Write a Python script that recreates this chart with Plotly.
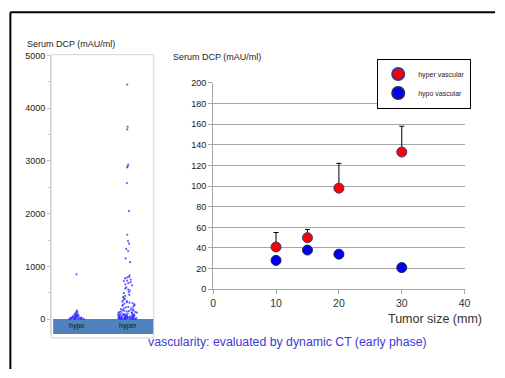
import plotly.graph_objects as go

# ---- data ----
# left panel: individual serum DCP values (mAU/ml) by vascularity
hypo_values = [850, 160, 140, 125, 110, 100, 92, 85, 78, 72, 66, 60, 55, 50, 46, 42,
               38, 35, 32, 29, 26, 23, 20, 18, 15, 13, 11, 9, 7, 6, 5, 4, 3, 2, 1]
hyper_values = [4450, 3650, 3600, 2930, 2900, 2880, 2580, 2050, 1600, 1480, 1430, 1330,
                1290, 1150, 1080, 830, 800, 790, 770, 750, 730, 720, 700, 680, 660, 640,
                600, 580, 560, 540, 510, 490, 460, 440, 420, 400, 380, 360, 340, 330,
                320, 310, 300, 290, 280, 270, 260, 250, 240, 230, 220, 210, 200, 190,
                180, 175, 170, 160, 155, 150, 145, 140, 135, 130, 125, 120, 115, 110,
                105, 100, 96, 92, 88, 85, 82, 78, 75, 72, 70, 68, 65, 62, 60, 58, 55,
                52, 50, 48, 46, 44, 42, 40, 38, 36, 34, 32, 30, 28, 26, 24, 22, 20, 19,
                18, 16, 15, 14, 12, 11, 10, 9, 8, 7, 6, 5, 4, 3, 2, 1]
left_categories = ["hypo", "hyper"]
left_ticks = [0, 1000, 2000, 3000, 4000, 5000]
left_minor_ticks = [500, 1500, 2500, 3500, 4500]

# right panel: mean serum DCP by tumor size
tumor_size = [10, 15, 20, 30]
hyper_mean = [41, 50, 98, 133]
hyper_err = [14, 8, 24, 25]
hypo_mean = [28, 38, 34, 21]
right_x_ticks = [0, 10, 20, 30, 40]
right_y_ticks = [0, 20, 40, 60, 80, 100, 120, 140, 160, 180, 200]

W, H = 505, 378
def px_x(p): return p / W
def px_y(p): return 1 - p / H

FONT = "Liberation Sans, Arial, sans-serif"
GRID = "#a6a6a6"

fig = go.Figure()

# left panel jittered points
for cat, vals in zip(left_categories, [hypo_values, hyper_values]):
    fig.add_trace(go.Box(
        y=vals, x=[cat] * len(vals), name=cat,
        boxpoints="all", jitter=0.6, pointpos=0,
        fillcolor="rgba(0,0,0,0)", line=dict(color="rgba(0,0,0,0)", width=0),
        marker=dict(color="rgba(40,40,255,0.75)", size=2.2),
        xaxis="x", yaxis="y", showlegend=False, whiskerwidth=0,
    ))

# right panel
fig.add_trace(go.Scatter(
    x=tumor_size, y=hyper_mean, mode="markers", name="hyper vascular",
    marker=dict(color="#ff0000", size=10, line=dict(color="#3a3a8a", width=1)),
    error_y=dict(type="data", array=hyper_err, arrayminus=[0] * len(hyper_err),
                 symmetric=False, color="black", thickness=1, width=2.5),
    xaxis="x2", yaxis="y2",
))
fig.add_trace(go.Scatter(
    x=tumor_size, y=hypo_mean, mode="markers", name="hypo vascular",
    marker=dict(color="#0000ee", size=10, line=dict(color="#222266", width=1)),
    xaxis="x2", yaxis="y2",
))

shapes = [
    # outer frame (top and left edges)
    dict(type="line", xref="paper", yref="paper", x0=px_x(7.5), x1=px_x(501),
         y0=px_y(7.5), y1=px_y(7.5), line=dict(color="black", width=2)),
    dict(type="line", xref="paper", yref="paper", x0=px_x(7.5), x1=px_x(7.5),
         y0=px_y(7.5), y1=px_y(374), line=dict(color="black", width=2)),
    # light box around left panel
    dict(type="rect", xref="paper", yref="paper", x0=px_x(49), x1=px_x(153.5), y0=px_y(342),
         y1=px_y(51), line=dict(color="#d4d4d4", width=1), fillcolor="rgba(0,0,0,0)",
         layer="below"),
    # blue category band
    dict(type="rect", xref="x domain", yref="y", x0=0.02, x1=1, y0=-285, y1=0,
         line=dict(width=0), fillcolor="#4f81bd", layer="below"),
]

annotations = [
    dict(text="Serum DCP (mAU/ml)", x=px_x(22), y=px_y(40), xref="paper", yref="paper",
         xanchor="left", yanchor="middle", showarrow=False, font=dict(size=9, color="#222")),
    dict(text="Serum DCP (mAU/ml)", x=px_x(171), y=px_y(53), xref="paper", yref="paper",
         xanchor="left", yanchor="middle", showarrow=False, font=dict(size=9, color="#222")),
    dict(text="Tumor size (mm)", x=px_x(490), y=px_y(323), xref="paper", yref="paper",
         xanchor="right", yanchor="middle", showarrow=False, font=dict(size=12.5, color="#333")),
    dict(text="vascularity: evaluated by dynamic CT (early phase)", x=px_x(290), y=px_y(346),
         xref="paper", yref="paper", xanchor="center", yanchor="middle", showarrow=False,
         font=dict(size=12.3, color="#3b3bd6")),
]
for cat in left_categories:
    annotations.append(dict(text=cat, x=cat, y=-140, xref="x", yref="y", showarrow=False,
                            font=dict(size=7, color="#111")))

fig.update_layout(
    width=W, height=H, margin=dict(l=0, r=0, t=0, b=0),
    paper_bgcolor="white", plot_bgcolor="rgba(0,0,0,0)",
    font=dict(family=FONT, size=9, color="#222"),
    shapes=shapes, annotations=annotations,
    boxgap=0.1,
    xaxis=dict(domain=[px_x(49), px_x(153)], type="category",
               categoryorder="array", categoryarray=left_categories,
               range=[-0.5, 1.5], showticklabels=False, showgrid=False, zeroline=False,
               showline=False, fixedrange=True),
    yaxis=dict(domain=[px_y(338), px_y(52)], range=[-285, 5000], tickvals=left_ticks,
               showgrid=False, zeroline=False, showline=True, linecolor="#cfcfcf",
               ticks="outside", ticklen=3, tickcolor="#bbbbbb",
               tickfont=dict(size=9, color="#222"),
               minor=dict(tickvals=left_minor_ticks, ticks="outside", ticklen=2,
                          tickcolor="#cccccc")),
    xaxis2=dict(domain=[px_x(214), px_x(470)], range=[0, 40], tickvals=right_x_ticks,
                showgrid=False, zeroline=False, showline=True, linecolor=GRID,
                ticks="outside", ticklen=4, tickcolor=GRID,
                tickfont=dict(size=10.5, color="#333"), anchor="y2"),
    yaxis2=dict(domain=[px_y(292), px_y(80)], range=[0, 200],
                tickvals=right_y_ticks, showgrid=True, gridcolor=GRID, gridwidth=1,
                zeroline=False, showline=True, linecolor=GRID, ticks="outside", ticklen=4,
                tickcolor=GRID, tickfont=dict(size=9, color="#222"), anchor="x2"),
    legend=dict(x=px_x(381), y=px_y(55), xanchor="left", yanchor="top",
                bgcolor="white", bordercolor="black", borderwidth=1,
                font=dict(size=7, color="#222"), itemsizing="constant"),
    showlegend=True,
)

fig.write_html(
    "out.html",
    config={"displayModeBar": False, "responsive": False},
    post_script="document.documentElement.style.margin='0';document.body.style.margin='0';"
                "document.body.style.padding='0';document.body.style.overflow='hidden';",
)
